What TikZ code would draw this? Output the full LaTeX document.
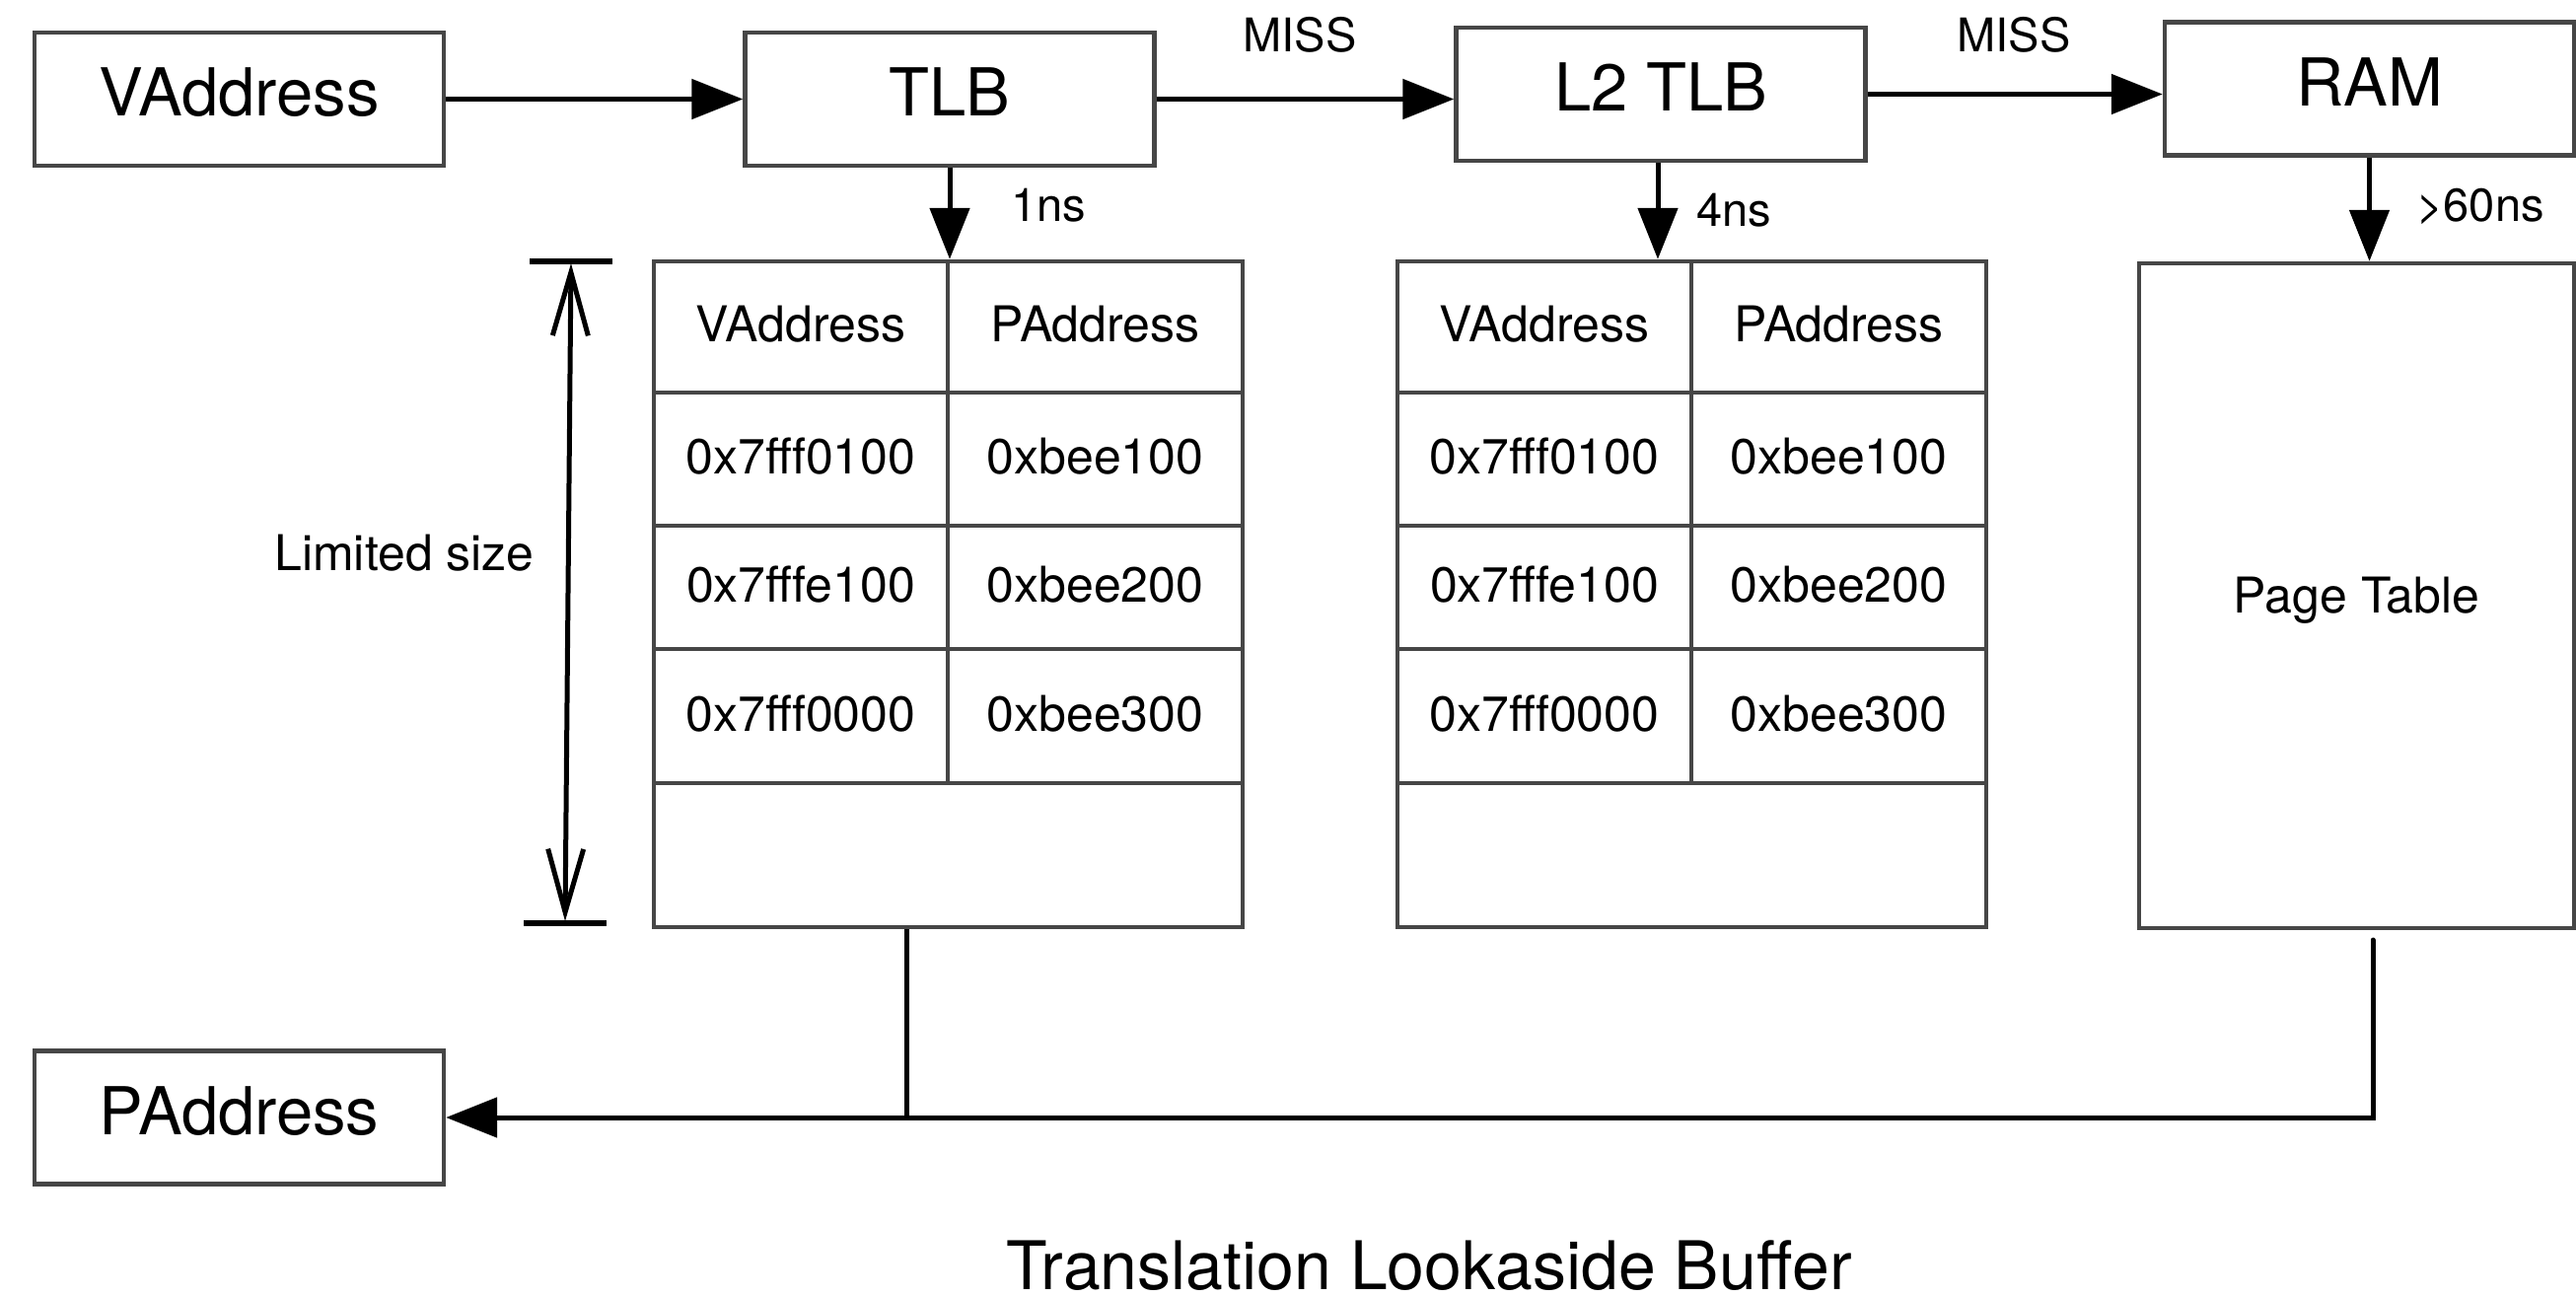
\documentclass[tikz,border=0pt]{standalone}
\usepackage{fontspec}
\setmainfont{TeX Gyre Heros}
\usetikzlibrary{arrows.meta}
\definecolor{boxgray}{RGB}{70,70,70}
\tikzset{
  bigbox/.style={draw=boxgray, line width=2.2pt, minimum width=207.5pt, minimum height=67.5pt, inner sep=0pt, font=\fontsize{33.5}{40}\selectfont, text height=17.5pt, text depth=0pt},
  cellline/.style={draw=boxgray, line width=2.2pt},
  celltext/.style={font=\fontsize{25}{30}\selectfont, text height=15pt, text depth=0pt, inner sep=0pt},
  conn/.style={line width=2.5pt, black},
  arr/.style={conn, -{Triangle[length=26pt,width=20pt]}},
  smalllabel/.style={font=\fontsize{23.5}{28}\selectfont, anchor=base, inner sep=0pt},
  midlabel/.style={font=\fontsize{25}{30}\selectfont, anchor=base, inner sep=0pt},
  barb/.style={conn, {Straight Barb[length=32pt,width=18pt]}-{Straight Barb[length=32pt,width=18pt]}},
}
\newcommand\tlbtable[2]{%
\begin{scope}[shift={(#2,0)}]
  \node[draw=boxgray, line width=2.2pt, minimum width=298.5pt, minimum height=337.5pt, inner sep=0pt] (#1tab) at (961.5,602.5) {};
  \draw[cellline] (663,398) -- (1260,398) (663,533) -- (1260,533)
                  (663,658) -- (1260,658) (663,794) -- (1260,794)
                  (961,265) -- (961,794);
  \node[celltext] (#1a1) at (812,331.5) {VAddress};
  \node[celltext] (#1b1) at (1110.5,331.5) {PAddress};
  \node[celltext] (#1a2) at (812,465.5) {0x7fff0100};
  \node[celltext] (#1b2) at (1110.5,465.5) {0xbee100};
  \node[celltext] (#1a3) at (812,595.5) {0x7fffe100};
  \node[celltext] (#1b3) at (1110.5,595.5) {0xbee200};
  \node[celltext] (#1a4) at (812,726) {0x7fff0000};
  \node[celltext] (#1b4) at (1110.5,726) {0xbee300};
\end{scope}}
\begin{document}
\begin{tikzpicture}[x=0.5pt,y=-0.5pt]
\useasboundingbox (0,0) rectangle (2612,1315);

% boxes
\node[bigbox] (vaddr) at (242.5,100.5) {VAddress};
\node[bigbox] (tlb) at (963,100.5) {TLB};
\node[bigbox] (l2) at (1684,95.5) {L2 TLB};
\node[bigbox] (ram) at (2402.5,90) {RAM};
\node[bigbox] (paddr) at (242.5,1133) {PAddress};

% tables
\tlbtable{a}{0}
\tlbtable{b}{754}

% page table
\node[draw=boxgray, line width=2.2pt, minimum width=220.5pt, minimum height=337pt, inner sep=0pt,
      font=\fontsize{25}{30}\selectfont, text height=17pt, text depth=0pt] (pt) at (2389.5,604) {Page Table};

% top connectors
\draw[arr] (vaddr.east) -- (tlb.west);
\draw[arr] (tlb.east) -- (tlb.east -| l2.west);
\draw[arr] (l2.east) -- (l2.east -| ram.west);
\node[smalllabel] (miss1) at (1318,53) {MISS};
\node[smalllabel] (miss2) at (2042,53) {MISS};

% down connectors
\draw[arr] (tlb.south) -- (tlb.south |- atab.north);
\draw[arr] ([xshift=-1.5pt]l2.south) -- ([xshift=-1.5pt]l2.south |- btab.north);
\draw[arr] (ram.south) -- (ram.south |- pt.north);
\node[smalllabel] (ns1) at (1063,225) {1ns};
\node[smalllabel] (ns4) at (1758,230) {4ns};
\node[smalllabel] (ns60) at (2515,225) {>60ns};

% limited size dimension
\coordinate (dimtop) at (579,267);
\coordinate (dimbot) at (573,934);
\draw[conn, line width=2.8pt] (537,265) -- (621,265);
\draw[conn, line width=2.8pt] (531,936) -- (615,936);
\draw[barb] (dimtop) -- (dimbot);
\node[midlabel] (lim) at (410,579) {Limited size};

% bottom connectors
\coordinate (j1) at (919,1133);
\coordinate (j2) at (2406,1133);
\coordinate (j2top) at (2406,953);
\draw[conn] (atab.south -| j1) -- (j1);
\draw[arr, line cap=round] (j2top) -- (j2) -- (paddr.east);

% title
\node[font=\fontsize{34}{40}\selectfont, anchor=base, inner sep=0pt, text depth=0pt] (title) at (1449,1307) {Translation Lookaside Buffer};
\end{tikzpicture}
\end{document}
